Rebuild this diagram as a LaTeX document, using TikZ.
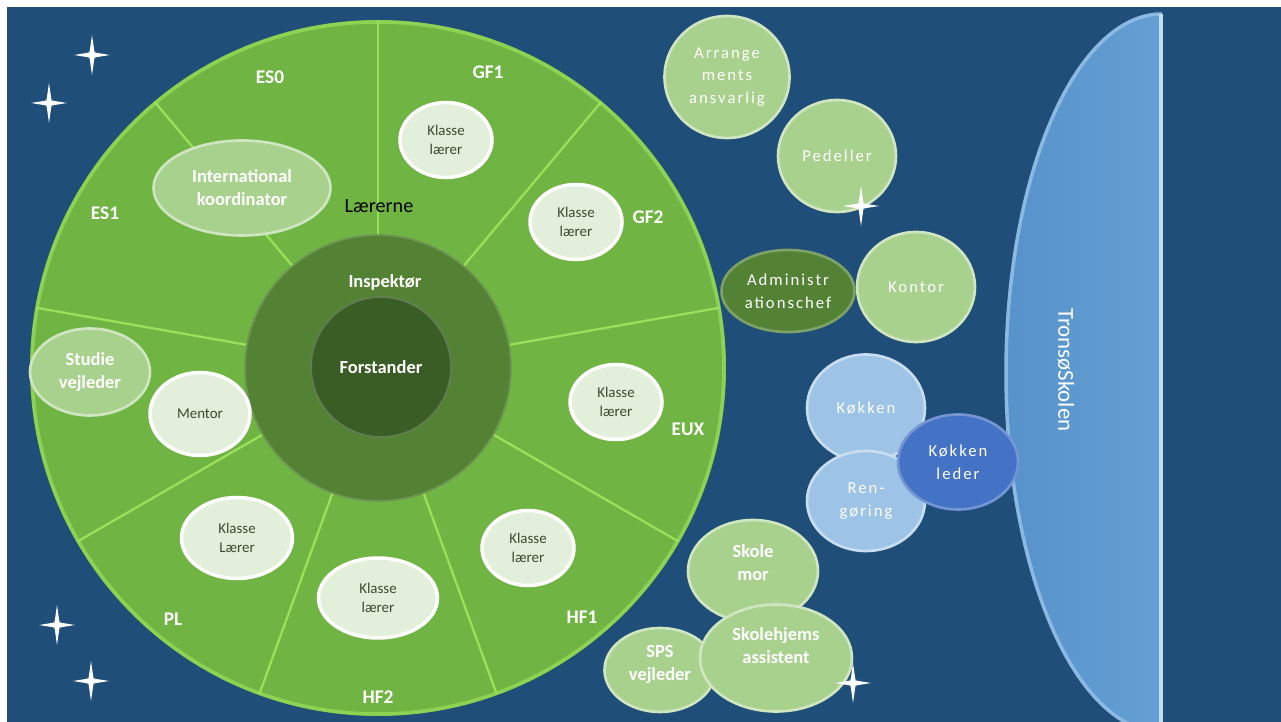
\documentclass[tikz,border=0pt]{standalone}
\usepackage{fontspec}
\setmainfont{Carlito}
\newfontfamily\spc[LetterSpace=12]{Carlito}
\usetikzlibrary{positioning}
\usetikzlibrary{calc}
\usetikzlibrary{shapes.geometric}
\definecolor{nightblue}{HTML}{1F4E79}
\definecolor{ringgreen}{HTML}{70B443}
\definecolor{rimgreen}{HTML}{9BE05A}
\definecolor{inspgreen}{HTML}{548235}
\definecolor{forstgreen}{HTML}{3A5C25}
\definecolor{bubgreen}{HTML}{A9D18E}
\definecolor{palegreen}{HTML}{E2EFDA}
\definecolor{paleblue}{HTML}{9DC3E6}
\definecolor{midblue}{HTML}{4472C4}
\definecolor{schoolblue}{HTML}{5B9BD5}
\definecolor{klassetext}{HTML}{3A4A30}
\tikzstyle{seg} = [text=white, font=\fontsize{11}{13}\selectfont\bfseries]
\tikzstyle{divider} = [rimgreen, line width=1.3pt]
\tikzstyle{klasse} = [ellipse, fill=palegreen, draw=white, line width=2pt, inner sep=0pt, text=klassetext, align=center, font=\fontsize{8.5}{11}\selectfont]
\tikzstyle{bub} = [ellipse, fill=bubgreen, draw=bubgreen!55!white, line width=1.5pt, inner sep=0pt, text=white, align=center]
\tikzstyle{boldtxt} = [font=\fontsize{10.5}{13}\selectfont\bfseries]
\tikzstyle{spctxt} = [font=\spc\fontsize{9.5}{13}\selectfont]
\tikzstyle{bluebub} = [bub, fill=paleblue, draw=paleblue!55!white]
\newcommand\sparkle[1]{\fill[white, opacity=.25, shift={(#1)}] (0,0) circle (5);
  \fill[white, shift={(#1)}] (0,-20) -- (2.5,-2.5) -- (18,0) -- (2.5,2.5) -- (0,20) -- (-2.5,2.5) -- (-18,0) -- (-2.5,-2.5) -- cycle;}

\begin{document}
\begin{tikzpicture}[x=0.02cm, y=-0.02cm]
      \fill[white] (0,0) rectangle (1281,722);
      \useasboundingbox (0,0) rectangle (1281,722);
      \clip (0,0) rectangle (1281,722);
      \fill[nightblue] (7,7) rectangle (1281,722);
      % TronsoeSkolen
      \begin{scope}
        \clip (900,0) rectangle (1162,722);
        \shade[left color=schoolblue!95!black, right color=schoolblue!85!white] (1162,373) ellipse [x radius=157, y radius=360];
        \draw[schoolblue!70!white, line width=2pt] (1162,373) ellipse [x radius=156, y radius=359];
      \end{scope}
      \draw[schoolblue!35!white, line width=2pt] (1161,14) -- (1161,722);
      \node[rotate=-90, text=white, font=\fontsize{13}{14}\selectfont] (tronso) at (1066,370) {TronsøSkolen};
      % the wheel
      \coordinate (c) at (378,368);
      \fill[ringgreen] (c) circle (348);
      \draw[rimgreen, line width=2pt, opacity=.7] (c) circle (346);
      \foreach \a in {10,50,...,330}
        \draw[divider] ($(c)+(-\a:133)$) -- ($(c)+(-\a:347)$);
      \node[circle, fill=inspgreen, draw=inspgreen!85!white, line width=1pt, minimum size=5.32cm, inner sep=0pt] (inspring) at (c) {};
      \node[circle, fill=forstgreen, draw=forstgreen!80!white, line width=1pt, minimum size=2.8cm, inner sep=0pt, text=white, boldtxt] (forst) at (381,367) {Forstander};
      \node[text=white, boldtxt] (insp) at (385,282) {Inspektør};
      \node[font=\fontsize{11.5}{13}\selectfont] (laererne) at (379,206) {Lærerne};
      \node[seg] (es0) at (270,77) {ES0};
      \node[seg] (gf1) at (488,72) {GF1};
      \node[seg] (gf2) at (648,217) {GF2};
      \node[seg] (es1) at (105,213) {ES1};
      \node[seg] (eux) at (688,429) {EUX};
      \node[seg] (hf1) at (582,617) {HF1};
      \node[seg] (hf2) at (378,697) {HF2};
      \node[seg] (pl) at (173,619) {PL};
      \node[bub, boldtxt, minimum width=3.54cm, minimum height=1.9cm] (intl) at (242,188) {International\\koordinator};
      \node[klasse, minimum width=1.84cm, minimum height=1.5cm] (k1) at (446,140) {Klasse\\lærer};
      \node[klasse, minimum width=1.84cm, minimum height=1.5cm] (k2) at (576,222) {Klasse\\lærer};
      \node[klasse, minimum width=1.84cm, minimum height=1.5cm] (k3) at (616,402) {Klasse\\lærer};
      \node[klasse, minimum width=1.84cm, minimum height=1.5cm] (k4) at (528,548) {Klasse\\lærer};
      \node[klasse, minimum width=2.38cm, minimum height=1.6cm] (k5) at (378,598) {Klasse\\lærer};
      \node[klasse, minimum width=2.22cm, minimum height=1.62cm] (k6) at (237,538) {Klasse\\Lærer};
      \node[klasse, minimum width=2.0cm, minimum height=1.66cm] (mentor) at (200,414) {Mentor};
      \node[bub, boldtxt, minimum width=2.4cm, minimum height=1.74cm] (studie) at (90,372) {Studie\\vejleder};
      % right side
      \node[bub, spctxt, minimum width=2.5cm, minimum height=2.44cm] (arr) at (727,77) {Arrange\\ments\\ansvarlig};
      \node[bub, spctxt, minimum width=2.36cm, minimum height=2.24cm] (ped) at (837,156) {Pedeller};
      \node[bub, spctxt, minimum width=2.36cm, minimum height=2.2cm] (kontor) at (916,287) {Kontor};
      \node[bub, spctxt, fill=inspgreen, draw=inspgreen!75!white, minimum width=2.66cm, minimum height=1.64cm] (admin) at (788,291) {Administr\\ationschef};
      \node[bluebub, spctxt, minimum width=2.36cm, minimum height=2.14cm] (kokken) at (866,408) {Køkken};
      \node[bluebub, spctxt, minimum width=2.36cm, minimum height=2.0cm] (reng) at (866,501) {Ren-\\gøring};
      \node[bub, spctxt, fill=midblue, draw=midblue!75!white, minimum width=2.4cm, minimum height=1.9cm] (kleder) at (958,462) {Køkken\\leder};
      \node[bub, boldtxt, minimum width=2.6cm, minimum height=2.04cm, label={[boldtxt, text=white, align=center, yshift=5pt]center:Skole\\mor}] (skolemor) at (753,571) {};
      \node[bub, boldtxt, minimum width=2.22cm, minimum height=1.68cm, label={[boldtxt, text=white, align=center, yshift=3pt]center:SPS\\vejleder}] (sps) at (660,670) {};
      \node[bub, boldtxt, minimum width=3.04cm, minimum height=2.14cm, label={[boldtxt, text=white, align=center, yshift=7pt]center:Skolehjems\\assistent}] (skoleass) at (776,658) {};
      % stars
      \sparkle{92,55}
      \sparkle{49,103}
      \sparkle{57,625}
      \sparkle{91,681}
      \sparkle{861,206}
      \sparkle{853,683}
\end{tikzpicture}
\end{document}
